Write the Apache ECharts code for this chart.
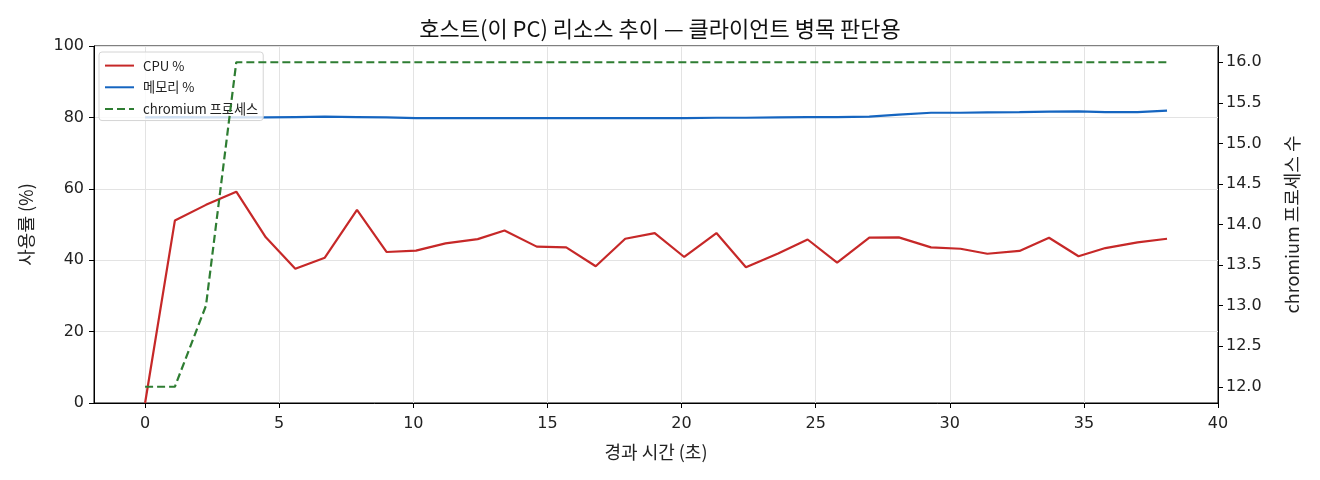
<!DOCTYPE html>
<html><head><meta charset="utf-8">
<script src="https://cdn.jsdelivr.net/npm/echarts@6/dist/echarts.min.js"></script>
<style>html,body{margin:0;padding:0;background:#fff}#c{width:1320px;height:480px}</style>
</head><body><div id="c"></div>
<script>
var times = [0, 1.11, 2.27, 3.4, 4.5, 5.6, 6.7, 7.9, 9.0, 10.1, 11.2, 12.4, 13.4, 14.6, 15.7, 16.8, 17.9, 19.0, 20.1, 21.3, 22.4, 23.6, 24.7, 25.8, 27.0, 28.1, 29.3, 30.4, 31.4, 32.6, 33.7, 34.8, 35.8, 37.0, 38.1];
var cpu = [0, 51.1, 55.5, 59.2, 46.4, 37.6, 40.7, 54.1, 42.3, 42.7, 44.7, 45.9, 48.3, 43.8, 43.6, 38.3, 46.0, 47.6, 40.9, 47.6, 38.0, 41.9, 45.8, 39.3, 46.3, 46.4, 43.6, 43.2, 41.8, 42.6, 46.3, 41.1, 43.4, 45.0, 46.0];
var mem = [80.0, 80.1, 80.0, 80.0, 80.0, 80.1, 80.2, 80.1, 80.0, 79.8, 79.8, 79.8, 79.8, 79.8, 79.8, 79.8, 79.8, 79.8, 79.8, 79.9, 79.9, 80.0, 80.1, 80.1, 80.2, 80.8, 81.3, 81.3, 81.4, 81.5, 81.6, 81.7, 81.5, 81.5, 81.9];
var chromium = [12, 12, 13, 16, 16, 16, 16, 16, 16, 16, 16, 16, 16, 16, 16, 16, 16, 16, 16, 16, 16, 16, 16, 16, 16, 16, 16, 16, 16, 16, 16, 16, 16, 16, 16];
var xTicks = [0, 5, 10, 15, 20, 25, 30, 35, 40];
var rightTicks = [12, 12.5, 13, 13.5, 14, 14.5, 15, 15.5, 16];

function zip(xs, ys) { return xs.map(function (x, i) { return [x, ys[i]]; }); }

var KR = '"Noto Sans CJK KR", "Noto Sans", sans-serif';
var NUM = '"DejaVu Sans", "Noto Sans CJK KR", sans-serif';
var chart = echarts.init(document.getElementById('c'));
chart.setOption({
  animation: false,
  textStyle: { fontFamily: KR },
  title: {
    text: '호스트(이 PC) 리소스 추이 — 클라이언트 병목 판단용',
    left: 'center', top: 13,
    textStyle: { fontSize: 22, fontWeight: 'normal', color: '#111', fontFamily: KR }
  },
  legend: {
    orient: 'vertical', left: 99, top: 52,
    padding: [7, 5, 5, 5], itemGap: 8.5, itemWidth: 29, itemHeight: 14,
    backgroundColor: 'rgba(255,255,255,0.8)', borderColor: '#d4d4d4', borderWidth: 1, borderRadius: 3,
    itemStyle: { opacity: 0 },
    textStyle: { fontSize: 13.2, color: '#222', fontFamily: KR, padding: [0, 0, 0, 4] },
    data: ['CPU %', '메모리 %', 'chromium 프로세스']
  },
  grid: { left: 94, right: 102, top: 46, bottom: 77, show: true, borderColor: '#000', borderWidth: 1, backgroundColor: 'transparent' },
  xAxis: {
    type: 'value', min: -1.905, max: 40,
    name: '경과 시간 (초)', nameLocation: 'middle', nameGap: 40,
    nameTextStyle: { fontSize: 18, color: '#222', fontFamily: KR },
    axisLine: { show: true, onZero: false, lineStyle: { color: '#000' } },
    axisTick: { show: true, length: 5, lineStyle: { color: '#000' }, customValues: xTicks },
    axisLabel: { fontSize: 16, color: '#222', margin: 13, fontFamily: NUM, customValues: xTicks },
    splitLine: { show: true, lineStyle: { color: '#e3e3e3' } }
  },
  yAxis: [{
    type: 'value', min: 0, max: 100, interval: 20,
    name: '사용률 (%)', nameLocation: 'middle', nameGap: 59,
    nameTextStyle: { fontSize: 18, color: '#222', fontFamily: KR },
    axisLine: { show: true, onZero: false, lineStyle: { color: '#000' } },
    axisTick: { show: true, length: 5, lineStyle: { color: '#000' } },
    axisLabel: { fontSize: 16, color: '#222', margin: 10, fontFamily: NUM, padding: [3, 0, 0, 0] },
    splitLine: { show: true, lineStyle: { color: '#e3e3e3' } }
  }, {
    type: 'value', min: 11.8, max: 16.2, position: 'right',
    name: 'chromium 프로세스 수', nameLocation: 'middle', nameGap: 65,
    nameTextStyle: { fontSize: 18, color: '#222', fontFamily: KR },
    axisLine: { show: true, onZero: false, lineStyle: { color: '#000' } },
    axisTick: { show: true, length: 5, lineStyle: { color: '#000' }, customValues: rightTicks },
    axisLabel: { fontSize: 16, color: '#222', margin: 8, fontFamily: NUM, padding: [3, 0, 0, 0], customValues: rightTicks,
      formatter: function (v) { return Number(v).toFixed(1); } },
    splitLine: { show: false }
  }],
  series: [{
    name: 'CPU %', type: 'line', data: zip(times, cpu), yAxisIndex: 0,
    showSymbol: false, symbol: 'none', color: '#c62828',
    lineStyle: { width: 2.2, color: '#c62828' }, z: 2
  }, {
    name: '메모리 %', type: 'line', data: zip(times, mem), yAxisIndex: 0,
    showSymbol: false, symbol: 'none', color: '#1565c0',
    lineStyle: { width: 2.2, color: '#1565c0' }, z: 2
  }, {
    name: 'chromium 프로세스', type: 'line', data: zip(times, chromium), yAxisIndex: 1,
    showSymbol: false, symbol: 'none', color: '#2e7d32',
    lineStyle: { width: 2.2, color: '#2e7d32', type: [8, 4] }, z: 10
  }]
});
</script></body></html>
